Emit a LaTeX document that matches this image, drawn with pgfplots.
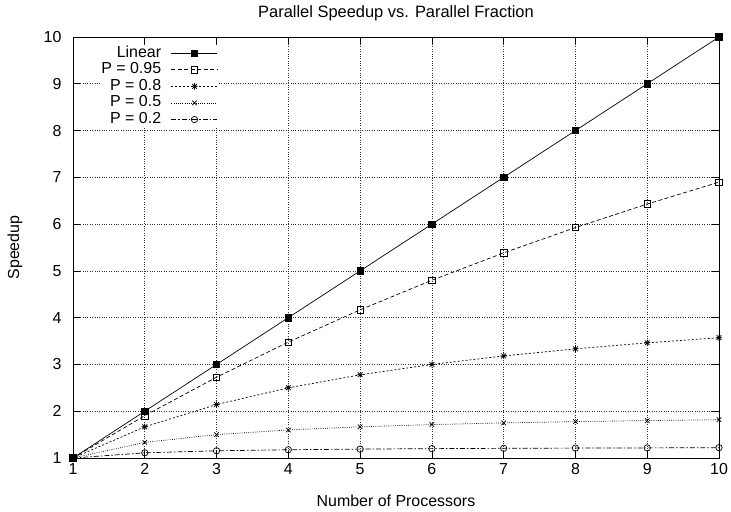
\documentclass[border=0pt]{standalone}
\usepackage{pgfplots}
\pgfplotsset{compat=1.18}
\usepackage{fontspec}
\setmainfont{Liberation Sans}
\pgfdeclareplotmark{gpstar}{%
  \pgfpathmoveto{\pgfqpoint{-\pgfplotmarksize}{0pt}}\pgfpathlineto{\pgfqpoint{\pgfplotmarksize}{0pt}}%
  \pgfpathmoveto{\pgfqpoint{0pt}{-\pgfplotmarksize}}\pgfpathlineto{\pgfqpoint{0pt}{\pgfplotmarksize}}%
  \pgfpathmoveto{\pgfqpoint{-0.75\pgfplotmarksize}{-0.75\pgfplotmarksize}}\pgfpathlineto{\pgfqpoint{0.75\pgfplotmarksize}{0.75\pgfplotmarksize}}%
  \pgfpathmoveto{\pgfqpoint{-0.75\pgfplotmarksize}{0.75\pgfplotmarksize}}\pgfpathlineto{\pgfqpoint{0.75\pgfplotmarksize}{-0.75\pgfplotmarksize}}%
  \pgfusepathqstroke}
\begin{document}
\begin{tikzpicture}[x=1bp,y=1bp]
\useasboundingbox (0,0) rectangle (731,512);
\begin{axis}[
  at={(73bp,54bp)}, anchor=south west,
  scale only axis, width=646bp, height=421bp,
  xmin=1, xmax=10, ymin=1, ymax=10,
  xtick={1,...,10}, ytick={1,...,10},
  grid=major,
  grid style={black!80, dotted, line width=0.6pt},
  axis line style={line width=0.8pt},
  tick style={black, line width=0.6pt},
  major tick length=7bp,
  font=\fontsize{16}{18}\selectfont,
  /pgf/number format/assume math mode=true,
  xticklabel style={yshift=-2bp},
  yticklabel style={xshift=-8bp},
  title={Parallel Speedup vs. Parallel Fraction},
  title style={at={(0.5,1)}, anchor=center, yshift=18bp, font=\fontsize{16.5}{18}\selectfont},
  xlabel={Number of Processors},
  ylabel={Speedup},
  xlabel style={at={(0.5,0)}, anchor=center, yshift=-43bp},
  ylabel style={at={(0,0.5)}, anchor=center, yshift=58bp},
  legend style={draw=none, fill=white, inner sep=0pt, at={(0.2245,0.98)}, anchor=north east,
    row sep=1.6bp, column sep=10bp, font=\fontsize{16}{18}\selectfont,
    nodes={inner sep=0pt, text height=11.5bp, text depth=3.5bp}},
  legend cell align=right,
  legend plot pos=right,
  legend image code/.code={\draw[#1, mark repeat=2, mark phase=2] plot coordinates {(0bp,0bp) (23bp,0bp) (46bp,0bp)};},
]
\addplot[black, line width=0.7pt, mark=square*, mark size=3.2pt] coordinates {
(1,1) (2,2) (3,3) (4,4) (5,5) (6,6) (7,7) (8,8) (9,9) (10,10)};
\addlegendentry{Linear}
\addplot[black, line width=0.7pt, dash pattern=on 4pt off 2.5pt, mark=square, mark size=3.2pt, mark options={solid}] coordinates {
(1,1) (2,1.905) (3,2.727) (4,3.478) (5,4.167) (6,4.8) (7,5.385) (8,5.926) (9,6.429) (10,6.897)};
\addlegendentry{P = 0.95}
\addplot[black, line width=0.7pt, dash pattern=on 2pt off 2pt, mark=gpstar, mark size=3.2pt, mark options={solid}] coordinates {
(1,1) (2,1.667) (3,2.143) (4,2.5) (5,2.778) (6,3.0) (7,3.182) (8,3.333) (9,3.462) (10,3.571)};
\addlegendentry{P = 0.8}
\addplot[black, line width=0.7pt, dash pattern=on 0.8pt off 1.4pt, mark=x, mark size=3.2pt, mark options={solid}] coordinates {
(1,1) (2,1.333) (3,1.5) (4,1.6) (5,1.667) (6,1.714) (7,1.75) (8,1.778) (9,1.8) (10,1.818)};
\addlegendentry{P = 0.5}
\addplot[black, line width=0.7pt, dash pattern=on 5pt off 2pt on 1.5pt off 2pt, mark=o, mark size=3.2pt, mark options={solid}] coordinates {
(1,1) (2,1.111) (3,1.154) (4,1.176) (5,1.190) (6,1.2) (7,1.207) (8,1.212) (9,1.216) (10,1.220)};
\addlegendentry{P = 0.2}
\end{axis}
\end{tikzpicture}
\end{document}
